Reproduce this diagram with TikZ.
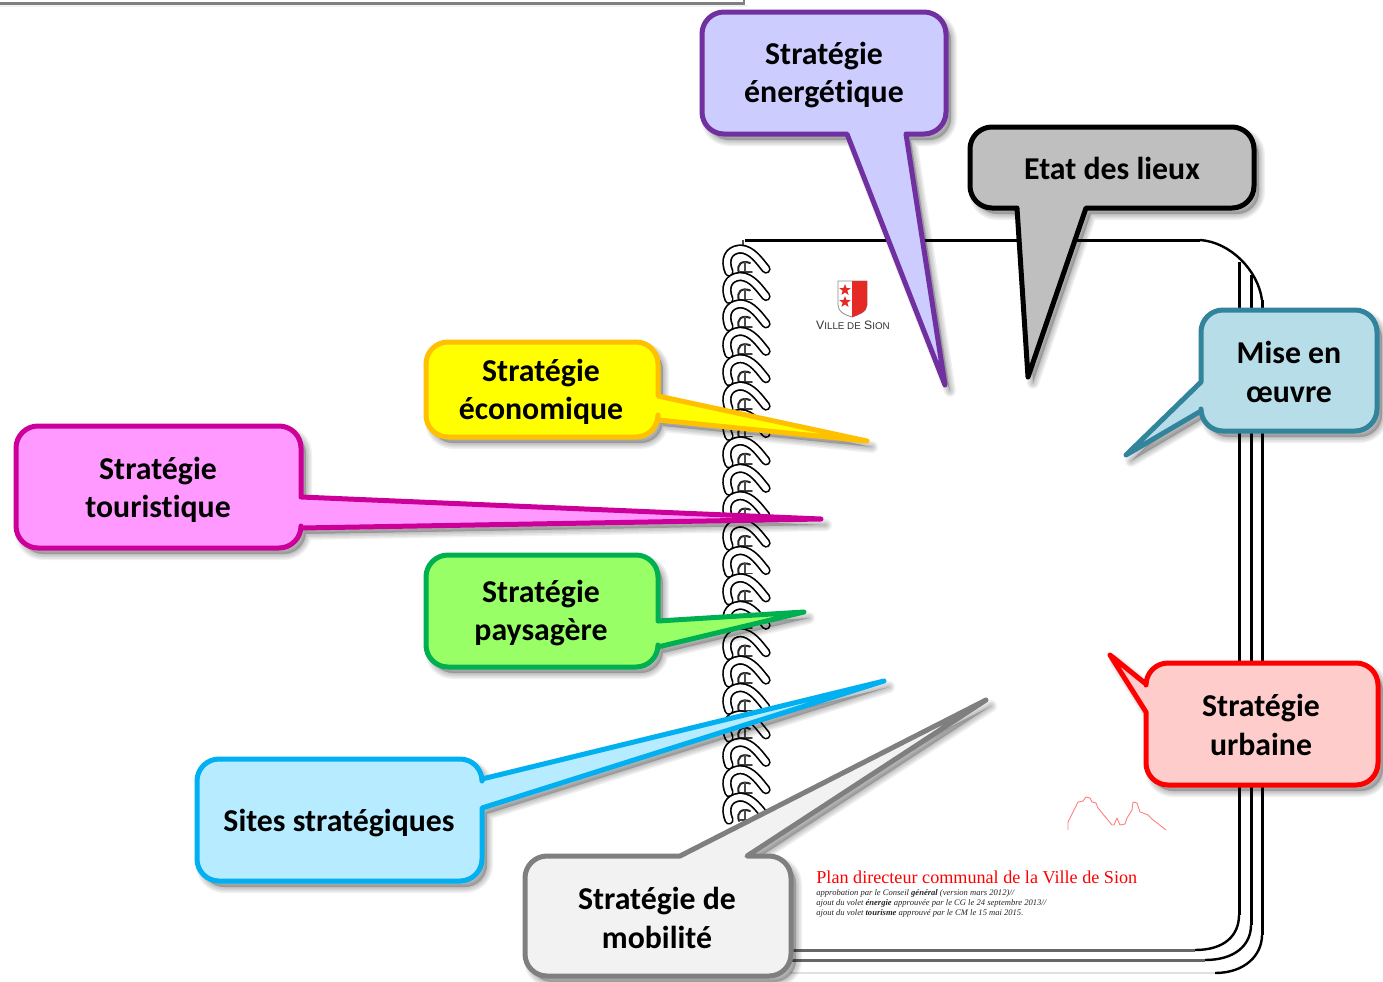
\documentclass[tikz,border=0pt]{standalone}
\usepackage{fontspec}
\setmainfont[Ligatures=NoCommon]{Carlito}
\newfontfamily\serifr{Liberation Serif}
\newfontfamily\sansr{Liberation Sans}
\usetikzlibrary{shapes.geometric}
\definecolor{cviolet}{HTML}{7030A0}\definecolor{fviolet}{HTML}{CCCCFF}
\definecolor{fgray}{HTML}{BFBFBF}
\definecolor{cteal}{HTML}{31849B}\definecolor{fteal}{HTML}{B7DDE8}
\definecolor{cred}{HTML}{FF0000}\definecolor{fred}{HTML}{FFCCCC}
\definecolor{cgold}{HTML}{FFC000}\definecolor{fyellow}{HTML}{FFFF00}
\definecolor{cmag}{HTML}{CC0099}\definecolor{fmag}{HTML}{FF99FF}
\definecolor{cgreen}{HTML}{00B050}\definecolor{fgreen}{HTML}{99FF66}
\definecolor{csky}{HTML}{00B0F0}\definecolor{fsky}{HTML}{B7EBFF}
\definecolor{cmid}{HTML}{7F7F7F}\definecolor{flight}{HTML}{F2F2F2}
\definecolor{shieldred}{HTML}{E52A25}
\tikzset{
  callbody/.style={line width=2.5pt,line join=round},
  calltext/.style={font=\bfseries\fontsize{15.9}{19.2}\selectfont,align=center,text=black,inner sep=0pt},
  coilpath/.style={line cap=round,line join=round},
  pageline/.style={line width=1.5pt,draw=black},
  pagecurve/.style={line width=1.2pt,draw=black},
  smalltext/.style={anchor=base west,font=\serifr\itshape\fontsize{4.28}{5}\selectfont,text=black!85,inner sep=0pt},
  starmark/.style={star,star points=5,star point ratio=2.4,fill=shieldred,inner sep=0pt,minimum size=6pt},
}
% #1 fill, #2 border, #3 closed path
\newcommand{\callout}[3]{%
  \foreach \w in {6,4.5,3,1.5}{%
    \draw[draw=black,fill=black,opacity=.06,line width=\w pt,line join=round,shift={(5,6)}] #3;}%
  \draw[callbody,fill=#1,draw=#2] #3;}
\newcommand{\coil}[1]{%
  \begin{scope}[shift={(0,#1)}]
    \foreach \w/\c in {4.7/black,3/white}{%
      \draw[coilpath,line width=\w pt,draw=\c] (729,32) .. controls (724,20) and (728,10) .. (740,9)
        .. controls (752,9) and (760,22) .. (766,29);}
    \draw[coilpath,line width=1pt,draw=black!85] (739,33) .. controls (736,24) and (742,20) .. (750,23);
    \draw[coilpath,line width=1pt,draw=black!70] (745,22) -- (745,33);
    \draw[coilpath,line width=.9pt,draw=black!75] (740,32) -- (752,32);
  \end{scope}}
\begin{document}
\begin{tikzpicture}[x=0.5pt,y=-0.5pt]
\useasboundingbox (0,0) rectangle (1383,981);
\fill[white] (0,0) rectangle (1383,981);
% top-left sheet edge
\fill[black!5] (0,5) rectangle (748,7);
\draw[line width=1.1pt,draw=gray] (0,3.5) -- (744,3.5) -- (744,0);
% notebook pages
\draw[pageline] (1262,300) -- (1262,935);
\draw[pagecurve] (1262,935) .. controls (1262,955) and (1245,973) .. (1215,973);
\draw[line width=1.2pt,draw=black!12] (790,973) -- (1215,973);
\draw[pageline] (1251,275) -- (1251,925);
\draw[pagecurve] (1251,925) .. controls (1251,945) and (1235,960) .. (1205,960);
\draw[line width=1.5pt,draw=black!60] (790,960) -- (1205,960);
\draw[pageline] (1239,262) -- (1239,915);
\draw[pagecurve] (1239,915) .. controls (1239,935) and (1225,950) .. (1195,950);
\draw[line width=1.5pt,draw=black!60] (790,950) -- (1195,950);
\draw[pageline] (745,240) -- (1200,240);
\draw[pagecurve] (1200,240) .. controls (1230,242) and (1258,270) .. (1262,300);
% spiral
\draw[line width=1pt,draw=black!70] (743,240) -- (743,250);
\foreach \y in {0,27.4,...,570}{\coil{\y+240}}
% logo
\draw[line width=.4pt,draw=black!45,fill=white] (838,281) -- (867,281) -- (867,305) .. controls (867,312) and (858,315) .. (852,317) .. controls (845,315) and (838,312) .. (838,305) -- cycle;
\fill[shieldred] (852,281) -- (867,281) -- (867,305) .. controls (867,312) and (858,315) .. (852,317) -- cycle;
\node[starmark] (star1) at (845,290) {};
\node[starmark] (star2) at (845,302) {};
\node[font=\sansr\fontsize{6.1}{7}\selectfont,text=black!80,inner sep=0pt] (sion) at (853,325) {V{\fontsize{4.9}{6}\selectfont ILLE DE} S{\fontsize{4.9}{6}\selectfont ION}};
% mountain
\draw[line width=.45pt,draw=red!50,line join=round] (1068,830) -- (1068,822) -- (1078,802) -- (1083,801) -- (1086,797) -- (1090,798) -- (1092,802) -- (1096,803) -- (1098,808) -- (1112,825) -- (1114,825) -- (1117,818) -- (1120,825) -- (1125,824) -- (1127,818) -- (1132,810) -- (1133,802) -- (1137,803) -- (1140,812) -- (1143,813) -- (1148,815) -- (1152,819) -- (1166,830);
% title text
\node[anchor=base west,font=\serifr\fontsize{9.07}{10}\selectfont,text=red,inner sep=0pt] (plan) at (816,883) {Plan directeur communal de la Ville de Sion};
\node[smalltext] (l1) at (816,895) {approbation par le Conseil \textbf{général} (version mars 2012)//};
\node[smalltext] (l2) at (816,905) {ajout du volet \textbf{énergie} approuvée par le CG le 24 septembre 2013//};
\node[smalltext] (l3) at (816,915) {ajout du volet \textbf{tourisme} approuvé par le CM le 15 mai 2015.};
% callouts
\callout{fviolet}{cviolet}{(824,12) [rounded corners=11pt] -- (946,12) -- (946,134) [sharp corners] -- (906,134) -- (945,385) -- (847,134) [rounded corners=11pt] -- (702,134) -- (702,12) -- cycle}
\node[calltext] (energ) at (824,75) {Stratégie\\énergétique};
\callout{fgray}{black}{(1112,127) [rounded corners=11pt] -- (1254,127) -- (1254,208) [sharp corners] -- (1086,208) -- (1028,377) -- (1017,208) [rounded corners=11pt] -- (970,208) -- (970,127) -- cycle}
\node[calltext] (etat) at (1112,168) {Etat des lieux};
\callout{fteal}{cteal}{(1289,310) [rounded corners=11pt] -- (1377,310) -- (1377,431) -- (1201,431) [sharp corners] -- (1201,411) -- (1126,455) -- (1201,382) [rounded corners=11pt] -- (1201,310) -- cycle}
\node[calltext] (mise) at (1289,372) {Mise en\\œuvre};
\callout{fred}{cred}{(1262,663) [rounded corners=11pt] -- (1378,663) -- (1378,785) -- (1146,785) [sharp corners] -- (1146,712) -- (1110,655) -- (1146,684) [rounded corners=11pt] -- (1146,663) -- cycle}
\node[calltext] (urb) at (1261,725) {Stratégie\\urbaine};
\callout{fyellow}{cgold}{(542,342) [rounded corners=11pt] -- (658,342) [sharp corners] -- (658,396) -- (867,441) -- (658,420) [rounded corners=11pt] -- (658,437) -- (426,437) -- (426,342) -- cycle}
\node[calltext] (eco) at (541,392) {Stratégie\\économique};
\callout{fmag}{cmag}{(158,426) [rounded corners=11pt] -- (301,426) [sharp corners] -- (301,497) -- (821,519) -- (301,528) [rounded corners=11pt] -- (301,548) -- (16,548) -- (16,426) -- cycle}
\node[calltext] (tour) at (158,490) {Stratégie\\touristique};
\callout{fgreen}{cgreen}{(542,555) [rounded corners=11pt] -- (658,555) [sharp corners] -- (658,621) -- (804,612) -- (658,647) [rounded corners=11pt] -- (658,667) -- (426,667) -- (426,555) -- cycle}
\node[calltext] (pays) at (541,613) {Stratégie\\paysagère};
\callout{fsky}{csky}{(340,759) [rounded corners=11pt] -- (482,759) [sharp corners] -- (482,779) -- (884,681) -- (482,808) [rounded corners=11pt] -- (482,881) -- (197,881) -- (197,759) -- cycle}
\node[calltext] (sites) at (339,823) {Sites stratégiques};
\callout{flight}{cmid}{(600,856) [sharp corners] -- (680,856) -- (986,700) -- (747,856) [rounded corners=11pt] -- (791,856) -- (791,976) -- (525,976) -- (525,856) -- cycle}
\node[calltext] (mob) at (657,918) {Stratégie de\\mobilité};
\end{tikzpicture}
\end{document}
